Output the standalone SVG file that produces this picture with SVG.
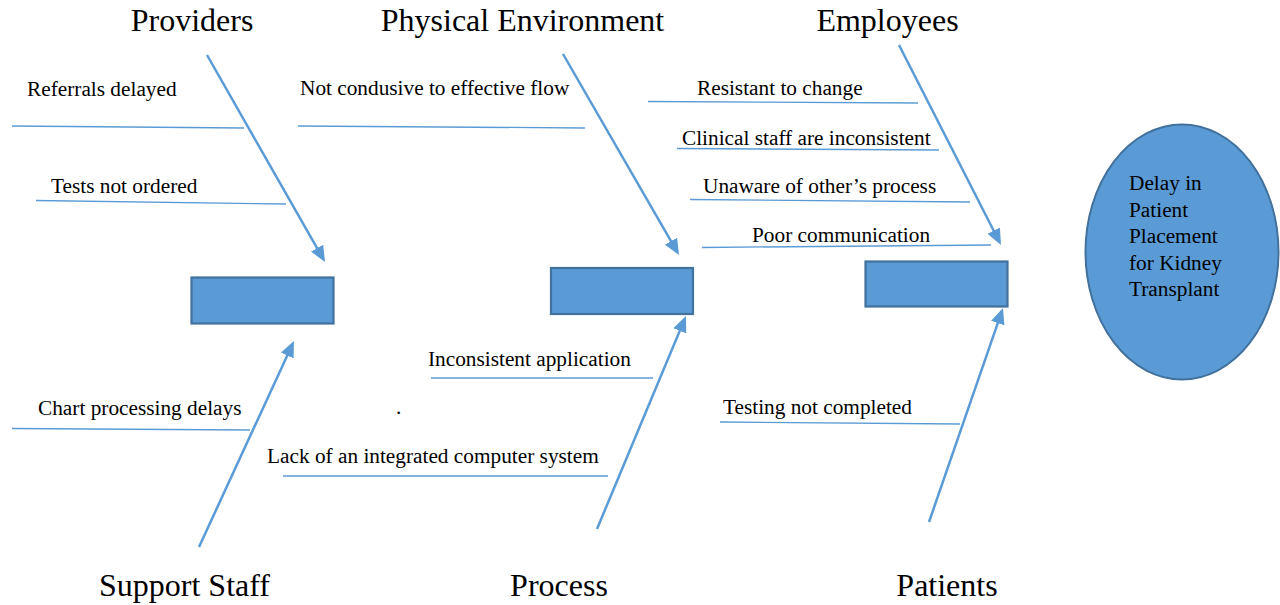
<svg xmlns="http://www.w3.org/2000/svg" width="1280" height="605" viewBox="0 0 1280 605">
  <style>
    .cat { font-family: "Liberation Serif", "Times New Roman", serif; font-size: 32px; fill: #000; text-anchor: middle; }
    .cause { font-family: "Liberation Serif", "Times New Roman", serif; font-size: 21.3px; fill: #000; }
    .branch { stroke: #5B9BD5; stroke-width: 1.3; fill: none; }
    .bone { stroke: #5B9BD5; stroke-width: 2.5; fill: none; marker-end: url(#head); }
    .box { fill: #5B9BD5; stroke: #41719C; stroke-width: 2.2; }
  </style>
  <defs>
    <marker id="head" markerUnits="userSpaceOnUse" viewBox="0 0 16 14" markerWidth="16" markerHeight="14" refX="13" refY="7" orient="auto">
      <path d="M0,0 L16,7 L0,14 z" fill="#5B9BD5"/>
    </marker>
  </defs>
  <rect width="1280" height="605" fill="#fff"/>

  <!-- Main bones: one arrow from each category towards its box -->
  <g id="connectors">
    <line class="bone" x1="207" y1="55" x2="323.5" y2="259.4"/>
    <line class="bone" x1="563" y1="54" x2="677.5" y2="252.4"/>
    <line class="bone" x1="899" y1="45" x2="999.6" y2="242.3"/>
    <line class="bone" x1="199" y1="547" x2="292.7" y2="343.7"/>
    <line class="bone" x1="597" y1="529" x2="684.8" y2="318.8"/>
    <line class="bone" x1="929" y1="522" x2="1002" y2="310.8"/>
  </g>

  <!-- Category boxes -->
  <g id="box-left"><rect class="box" x="191.5" y="277.5" width="142" height="46"/></g>
  <g id="box-middle"><rect class="box" x="551" y="268" width="142" height="46"/></g>
  <g id="box-right"><rect class="box" x="865.5" y="261.5" width="142" height="45"/></g>

  <!-- Effect -->
  <g id="effect">
    <ellipse cx="1182" cy="252" rx="96.5" ry="127.5" fill="#5B9BD5" stroke="#41719C" stroke-width="2"/>
    <text class="cause" x="1129" y="190">Delay in</text>
    <text class="cause" x="1129" y="217">Patient</text>
    <text class="cause" x="1129" y="243">Placement</text>
    <text class="cause" x="1129" y="270">for Kidney</text>
    <text class="cause" x="1129" y="296">Transplant</text>
  </g>

  <g id="providers">
    <text class="cat" x="192" y="31">Providers</text>
    <text class="cause" x="27" y="96">Referrals delayed</text>
    <line class="branch" x1="12" y1="126" x2="244" y2="128"/>
    <text class="cause" x="51" y="193">Tests not ordered</text>
    <line class="branch" x1="36" y1="200.5" x2="286" y2="204"/>
  </g>

  <g id="physical-environment">
    <text class="cat" x="522.5" y="31">Physical Environment</text>
    <text class="cause" x="300" y="95">Not condusive to effective flow</text>
    <line class="branch" x1="298" y1="126" x2="585" y2="128"/>
  </g>

  <g id="employees">
    <text class="cat" x="887.5" y="31">Employees</text>
    <text class="cause" x="697" y="95">Resistant to change</text>
    <line class="branch" x1="648" y1="101.5" x2="918" y2="103"/>
    <text class="cause" x="682" y="145">Clinical staff are inconsistent</text>
    <line class="branch" x1="677" y1="148.5" x2="939" y2="150"/>
    <text class="cause" x="703" y="193">Unaware of other’s process</text>
    <line class="branch" x1="690" y1="199.5" x2="970" y2="202"/>
    <text class="cause" x="752" y="242">Poor communication</text>
    <line class="branch" x1="702" y1="247.5" x2="991" y2="245"/>
  </g>

  <g id="support-staff">
    <text class="cat" x="184.5" y="596">Support Staff</text>
    <text class="cause" x="38" y="415">Chart processing delays</text>
    <line class="branch" x1="12" y1="428.5" x2="250" y2="430"/>
  </g>

  <g id="process">
    <text class="cat" x="559" y="596">Process</text>
    <text class="cause" x="428" y="366">Inconsistent application</text>
    <line class="branch" x1="431" y1="378" x2="653" y2="378"/>
    <text class="cause" x="396" y="414">.</text>
    <text class="cause" x="267" y="463">Lack of an integrated computer system</text>
    <line class="branch" x1="283" y1="476" x2="608" y2="476"/>
  </g>

  <g id="patients">
    <text class="cat" x="947" y="596">Patients</text>
    <text class="cause" x="723" y="414">Testing not completed</text>
    <line class="branch" x1="720" y1="422" x2="960" y2="424"/>
  </g>
</svg>
